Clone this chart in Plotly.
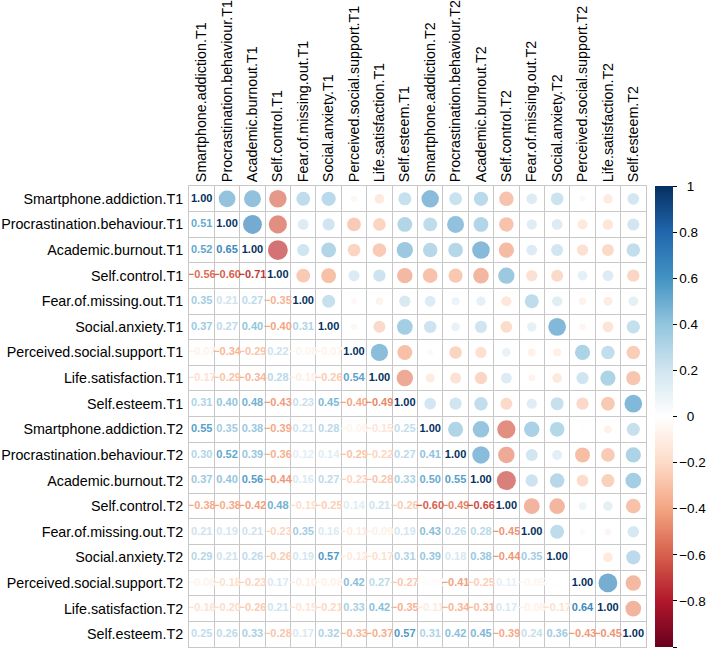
# corrplot-style mixed matrix: numbers below the diagonal, circles above
import plotly.graph_objects as go

labels = [
    "Smartphone.addiction.T1", "Procrastination.behaviour.T1", "Academic.burnout.T1",
    "Self.control.T1", "Fear.of.missing.out.T1", "Social.anxiety.T1",
    "Perceived.social.support.T1", "Life.satisfaction.T1", "Self.esteem.T1",
    "Smartphone.addiction.T2", "Procrastination.behaviour.T2", "Academic.burnout.T2",
    "Self.control.T2", "Fear.of.missing.out.T2", "Social.anxiety.T2",
    "Perceived.social.support.T2", "Life.satisfaction.T2", "Self.esteem.T2",
]

# lower triangle, one row per variable (correlations with the earlier variables)
r_procrastination_t1 = [0.51]
r_burnout_t1 = [0.52, 0.65]
r_selfcontrol_t1 = [-0.56, -0.60, -0.71]
r_fomo_t1 = [0.35, 0.21, 0.27, -0.35]
r_socanx_t1 = [0.37, 0.27, 0.40, -0.40, 0.31]
r_support_t1 = [-0.07, -0.34, -0.29, 0.22, -0.06, -0.07]
r_lifesat_t1 = [-0.17, -0.29, -0.34, 0.28, -0.10, -0.26, 0.54]
r_esteem_t1 = [0.31, 0.40, 0.48, -0.43, 0.23, 0.45, -0.40, -0.49]
r_smartphone_t2 = [0.55, 0.35, 0.38, -0.39, 0.21, 0.28, -0.06, -0.15, 0.25]
r_procrastination_t2 = [0.30, 0.52, 0.39, -0.36, 0.12, 0.14, -0.29, -0.22, 0.27, 0.41]
r_burnout_t2 = [0.37, 0.40, 0.56, -0.44, 0.16, 0.27, -0.23, -0.28, 0.33, 0.50, 0.55]
r_selfcontrol_t2 = [-0.38, -0.38, -0.42, 0.48, -0.19, -0.25, 0.14, 0.21, -0.26, -0.60, -0.49, -0.66]
r_fomo_t2 = [0.21, 0.19, 0.21, -0.23, 0.35, 0.16, -0.11, -0.09, 0.19, 0.43, 0.26, 0.28, -0.45]
r_socanx_t2 = [0.29, 0.21, 0.26, -0.26, 0.19, 0.57, -0.12, -0.17, 0.31, 0.39, 0.18, 0.38, -0.44, 0.35]
r_support_t2 = [-0.06, -0.18, -0.23, 0.17, -0.10, -0.08, 0.42, 0.27, -0.27, -0.02, -0.41, -0.25,
                0.11, -0.05, 0.01]
r_lifesat_t2 = [-0.16, -0.20, -0.26, 0.21, -0.15, -0.21, 0.33, 0.42, -0.35, -0.11, -0.34, -0.31,
                0.17, -0.08, -0.17, 0.64]
r_esteem_t2 = [0.25, 0.26, 0.33, -0.28, 0.17, 0.32, -0.33, -0.37, 0.57, 0.31, 0.42, 0.45,
               -0.39, 0.24, 0.36, -0.43, -0.45]

lower = [[], r_procrastination_t1, r_burnout_t1, r_selfcontrol_t1, r_fomo_t1, r_socanx_t1,
         r_support_t1, r_lifesat_t1, r_esteem_t1, r_smartphone_t2, r_procrastination_t2,
         r_burnout_t2, r_selfcontrol_t2, r_fomo_t2, r_socanx_t2, r_support_t2,
         r_lifesat_t2, r_esteem_t2]

n = len(labels)
corr = [[1.0] * n for _ in range(n)]
for i, row in enumerate(lower):
    for j, v in enumerate(row):
        corr[i][j] = v
        corr[j][i] = v

# corrplot RdBu palette
pal = ["#67001F", "#B2182B", "#D6604D", "#F4A582", "#FDDBC7", "#FFFFFF",
       "#D1E5F0", "#92C5DE", "#4393C3", "#2166AC", "#053061"]
cscale = [[k / 10, c] for k, c in enumerate(pal)]


def col_of(v):
    t = (v + 1) / 2 * 10
    k = min(int(t), 9)
    f = t - k
    a = [int(pal[k][p:p + 2], 16) for p in (1, 3, 5)]
    b = [int(pal[k + 1][p:p + 2], 16) for p in (1, 3, 5)]
    return "rgb(%d,%d,%d)" % tuple(round(a[q] + (b[q] - a[q]) * f) for q in range(3))


cx, cy, cv, cs = [], [], [], []
tx, ty, tt, tc = [], [], [], []
for i in range(n):
    for j in range(n):
        v = corr[i][j]
        if j > i:
            cx.append(j); cy.append(i); cv.append(v)
            cs.append(23.5 * abs(v) ** 0.5)
        else:
            tx.append(j); ty.append(i)
            tt.append(("%.2f" % v).replace("-", "\u2212"))
            tc.append(col_of(v))

font = "Liberation Sans, Arial, Helvetica, sans-serif"
fig = go.Figure()
fig.add_trace(go.Scatter(
    x=cx, y=cy, mode="markers", hoverinfo="skip",
    marker=dict(size=cs, color=cv, cmin=-1, cmax=1, colorscale=cscale,
                line=dict(width=0), showscale=True,
                colorbar=dict(x=1.0197, xanchor="left", xpad=0, y=0.5, yanchor="middle",
                              ypad=0, len=1, lenmode="fraction", thickness=18,
                              outlinewidth=0, ticks="outside", ticklen=4,
                              tickcolor="black",
                              tickvals=[-1, -0.8, -0.6, -0.4, -0.2, 0, 0.2, 0.4, 0.6, 0.8, 1],
                              ticktext=["\u22121", "\u22120.8", "\u22120.6", "\u22120.4",
                                        "\u22120.2", "  0", "0.2", "0.4", "0.6", "0.8", "  1"],
                              tickfont=dict(size=13.5, color="black", family=font))),
))
fig.add_trace(go.Scatter(
    x=tx, y=ty, mode="text", text=tt, hoverinfo="skip",
    textfont=dict(size=11, color=tc, family=font, weight="bold"),
))

grid = dict(tickvals=[k - 0.5 for k in range(n + 1)], showgrid=True,
            gridcolor="#C8C8C8", gridwidth=1, ticks="")
axis_common = dict(tickvals=list(range(n)), ticktext=labels, showgrid=False,
                   zeroline=False, ticks="", minor=grid, showline=True, mirror=True,
                   linecolor="#C8C8C8", linewidth=1,
                   tickfont=dict(size=14.3, color="black", family=font))
fig.update_xaxes(range=[-0.5, n - 0.5], side="top", tickangle=-90, **axis_common)
fig.update_yaxes(range=[n - 0.5, -0.5], ticklabelstandoff=2, **axis_common)

fig.update_layout(
    width=708, height=653, showlegend=False,
    margin=dict(l=189, r=62, t=186, b=6, autoexpand=False),
    plot_bgcolor="white", paper_bgcolor="white",
    font=dict(family=font),
)
# drop the page's default body margin so the figure fills the window
fig.write_html("out.html", config={"displayModeBar": False},
               post_script="document.body.style.margin='0';")
